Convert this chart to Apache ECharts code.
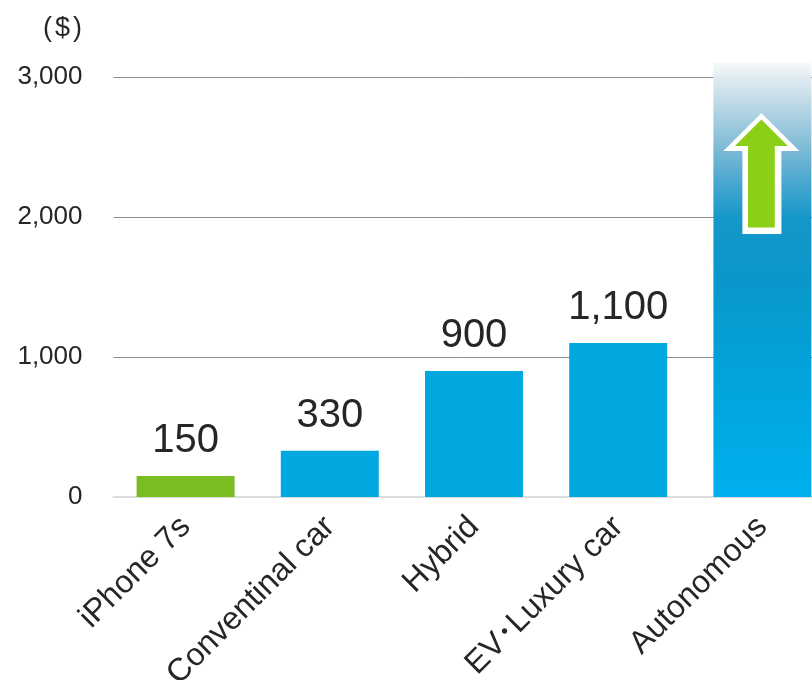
<!DOCTYPE html>
<html>
<head>
<meta charset="utf-8">
<style>
  html, body { margin: 0; padding: 0; background: #ffffff; }
  #chart { width: 812px; height: 680px; }
</style>
<script src="https://cdn.jsdelivr.net/npm/echarts@6/dist/echarts.min.js"></script>
</head>
<body>
<div id="chart"></div>
<script>
// Cost per unit ($)
const categories = ['iPhone 7s', 'Conventinal car', 'Hybrid', 'EV･Luxury car', 'Autonomous'];
const values = [150, 330, 900, 1100, 3100];
const labelledCount = 4;            // the open-ended last bar carries no value label
const yTicks = [0, 1000, 2000, 3000];
const arrowLevel = 2310;            // vertical centre of the "rising" arrow

const FONT = '"Liberation Sans", Arial, Helvetica, "Noto Sans CJK JP", sans-serif';
const TEXT = '#262626';
const GREEN = '#7abd22';
const BLUE = '#00a8df';

const fadeBlue = {
  type: 'linear', x: 0, y: 0, x2: 0, y2: 1,
  colorStops: [
    { offset: 0.00, color: '#f6f9fa' },
    { offset: 0.03, color: '#e3edf2' },
    { offset: 0.10, color: '#b9d7e4' },
    { offset: 0.20, color: '#7bbad5' },
    { offset: 0.29, color: '#3fa4cf' },
    { offset: 0.36, color: '#1497c8' },
    { offset: 0.50, color: '#0a97cb' },
    { offset: 0.72, color: '#02a3db' },
    { offset: 1.00, color: '#00b0ee' }
  ]
};

const barData = values.map((v, i) => ({
  value: v,
  itemStyle: { color: i === 0 ? GREEN : (i === values.length - 1 ? fadeBlue : BLUE) },
  label: { show: i < labelledCount }
}));

const arrowOuter = 'path://M38,0 L76,38 L58,38 L58,121 L19,121 L19,38 L0,38 Z';
const arrowInner = 'path://M26.3,0 L52.6,26.3 L39.6,26.3 L39.6,107.7 L13,107.7 L13,26.3 L0,26.3 Z';

const chart = echarts.init(document.getElementById('chart'), null, { renderer: 'canvas' });
chart.setOption({
  animation: false,
  backgroundColor: '#ffffff',
  textStyle: { fontFamily: FONT },
  title: {
    text: '{p|(}{d|$}{p|)}',
    left: 38,
    top: 10,
    textStyle: {
      fontWeight: 'normal',
      rich: {
        p: { fontFamily: FONT, fontSize: 27, fontWeight: 'normal', color: TEXT },
        d: { fontFamily: FONT, fontSize: 27, fontWeight: 'normal', color: TEXT, padding: [0, 3, 0, 3] }
      }
    }
  },
  // the plot runs past the right edge so the last bar is cut by the frame
  grid: { left: 113.5, width: 721, top: 77, bottom: 183, containLabel: false, outerBoundsMode: 'none' },
  xAxis: {
    type: 'category',
    data: categories,
    axisLine: { show: true, lineStyle: { color: '#dcdcdc', width: 2 } },
    axisTick: { show: false },
    axisLabel: {
      rotate: 45,
      margin: 25,
      fontFamily: FONT,
      fontSize: 32,
      color: TEXT,
      interval: 0
    }
  },
  yAxis: {
    type: 'value',
    min: yTicks[0],
    max: yTicks[yTicks.length - 1],
    interval: yTicks[1] - yTicks[0],
    axisLine: { show: false },
    axisTick: { show: false },
    splitLine: { lineStyle: { color: ['#dcdcdc', '#8c8c8c', '#8c8c8c', '#8c8c8c'], width: 1 } },
    axisLabel: {
      margin: 31,
      fontFamily: FONT,
      fontSize: 26,
      color: TEXT,
      formatter: v => v.toLocaleString('en-US')
    }
  },
  series: [{
    type: 'bar',
    data: barData,
    barWidth: 98,
    clip: false,
    label: {
      position: 'top',
      distance: 15,
      fontFamily: FONT,
      fontSize: 40,
      color: TEXT,
      formatter: p => p.value.toLocaleString('en-US')
    },
    markPoint: {
      silent: true,
      label: { show: false },
      data: [
        { coord: [categories[4], arrowLevel], symbol: arrowOuter, symbolSize: [76, 121], symbolOffset: [-1, 0], itemStyle: { color: '#ffffff' } },
        { coord: [categories[4], arrowLevel], symbol: arrowInner, symbolSize: [53, 108], symbolOffset: [-1, 0], itemStyle: { color: '#8ccf17' } }
      ]
    }
  }]
});
</script>
</body>
</html>
